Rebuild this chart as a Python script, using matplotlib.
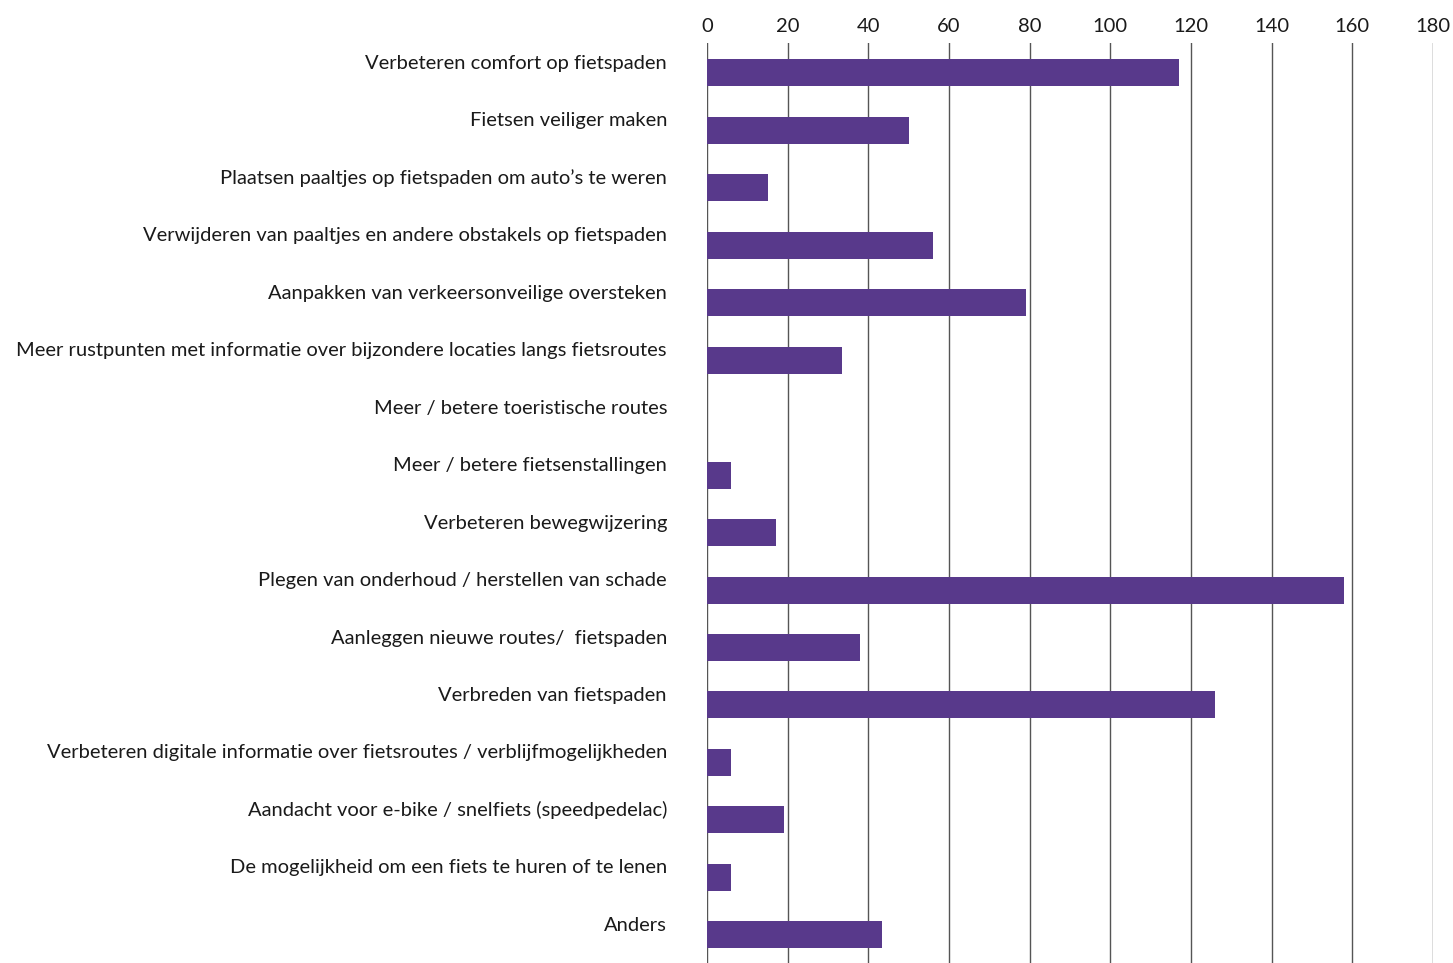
import numpy as np
import matplotlib
matplotlib.use("Agg")
from matplotlib import pyplot as plt
from matplotlib.transforms import ScaledTranslation

# categorieen (van boven naar beneden)
categories = [
    "Verbeteren comfort op fietspaden",
    "Fietsen veiliger maken",
    "Plaatsen paaltjes op fietspaden om auto\u2019s te weren",
    "Verwijderen van paaltjes en andere obstakels op fietspaden",
    "Aanpakken van verkeersonveilige oversteken",
    "Meer rustpunten met informatie over bijzondere locaties langs fietsroutes",
    "Meer / betere toeristische routes",
    "Meer / betere fietsenstallingen",
    "Verbeteren bewegwijzering",
    "Plegen van onderhoud / herstellen van schade",
    "Aanleggen nieuwe routes/  fietspaden",
    "Verbreden van fietspaden",
    "Verbeteren digitale informatie over fietsroutes / verblijfmogelijkheden",
    "Aandacht voor e-bike / snelfiets (speedpedelac)",
    "De mogelijkheid om een fiets te huren of te lenen",
    "Anders",
]
values = [117, 50, 15, 56, 79, 33.5, 0, 6, 17, 158, 38, 126, 6, 19, 6, 43.5]
x_ticks = [0, 20, 40, 60, 80, 100, 120, 140, 160, 180]

BAR_COLOR = "#58398b"
TEXT_COLOR = "#1a1a1a"

plt.rcParams["font.family"] = ["Lato", "DejaVu Sans"]

W, H, DPI = 1453, 963, 100
fig = plt.figure(figsize=(W / DPI, H / DPI), dpi=DPI)
ax = fig.add_axes([707 / W, 0, (1433 - 707) / W, (963 - 43) / H])

y = np.arange(len(categories))
ax.barh(y, values, height=0.47, color=BAR_COLOR, zorder=3)

ax.set_xlim(0, 180)
ax.set_ylim(15.49, -0.52)

ax.set_xticks(x_ticks)
ax.xaxis.tick_top()
ax.tick_params(axis="x", length=0, pad=6, labelsize=14.5, labelcolor=TEXT_COLOR)
ax.grid(axis="x", color="#555555", linewidth=1.0, zorder=1)

ax.set_yticks(y)
ax.set_yticklabels(categories)
ax.tick_params(axis="y", length=0, pad=28.8, labelsize=14.5, labelcolor=TEXT_COLOR)
# labels staan iets boven het midden van de balk
offset = ScaledTranslation(0, 0.11, fig.dpi_scale_trans)
for lbl in ax.get_yticklabels():
    lbl.set_transform(lbl.get_transform() + offset)

for s in ax.spines.values():
    s.set_visible(False)

fig.savefig("out.png", dpi=DPI)
